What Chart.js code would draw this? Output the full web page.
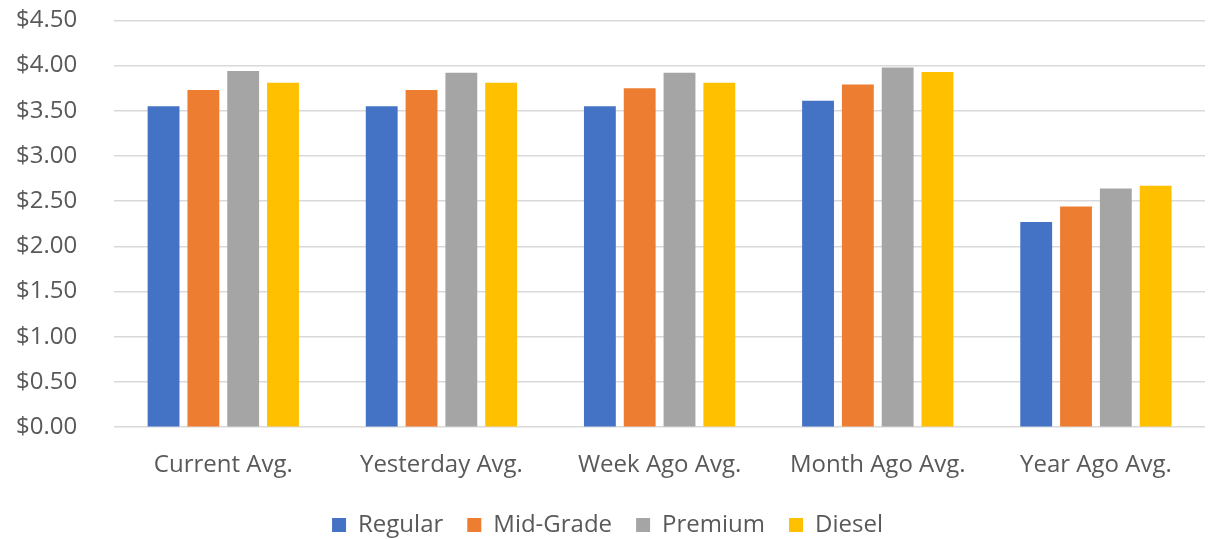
<!DOCTYPE html>
<html>
<head>
<meta charset="utf-8">
<script src="https://cdn.jsdelivr.net/npm/chart.js@4"></script>
<style>
  html, body { margin: 0; padding: 0; background: #fff; }
  #wrap { width: 1221px; height: 539px; }
</style>
</head>
<body>
<div id="wrap"><canvas id="chart"></canvas></div>
<script>
const categories = ['Current Avg.', 'Yesterday Avg.', 'Week Ago Avg.', 'Month Ago Avg.', 'Year Ago Avg.'];
const regular = [3.55, 3.55, 3.55, 3.61, 2.27];
const midGrade = [3.73, 3.73, 3.75, 3.79, 2.44];
const premium = [3.94, 3.92, 3.92, 3.98, 2.64];
const diesel = [3.81, 3.81, 3.81, 3.93, 2.67];

const textColor = '#595959';
const fontFamily = "'Open Sans', 'Liberation Sans', sans-serif";

new Chart(document.getElementById('chart'), {
    type: 'bar',
    data: {
        labels: categories,
        datasets: [
            { label: 'Regular', data: regular, backgroundColor: '#4472c4' },
            { label: 'Mid-Grade', data: midGrade, backgroundColor: '#ed7d31' },
            { label: 'Premium', data: premium, backgroundColor: '#a5a5a5' },
            { label: 'Diesel', data: diesel, backgroundColor: '#ffc000' }
        ]
    },
    options: {
        responsive: true,
        maintainAspectRatio: false,
        animation: false,
        datasets: {
            bar: { categoryPercentage: 0.73, barPercentage: 0.8 }
        },
        layout: { autoPadding: false, padding: { top: 12, right: 16, left: 10, bottom: -8 } },
        scales: {
            x: {
                grid: { display: false },
                border: { display: false },
                ticks: { color: textColor, font: { family: fontFamily, size: 24 }, padding: 16 },
                afterFit: scale => { scale.height -= 7; }
            },
            y: {
                min: 0,
                max: 4.5,
                border: { display: false },
                grid: { color: '#d9d9d9', lineWidth: 1.5, drawTicks: true, tickLength: 31, tickColor: 'rgba(0,0,0,0)' },
                ticks: {
                    stepSize: 0.5,
                    color: textColor,
                    padding: 6,
                    font: { family: fontFamily, size: 24 },
                    callback: v => '$' + v.toFixed(2)
                }
            }
        },
        plugins: {
            tooltip: { enabled: false },
            legend: {
                position: 'bottom',
                labels: {
                    color: textColor,
                    font: { family: fontFamily, size: 24 },
                    boxWidth: 14,
                    boxHeight: 14,
                    padding: 24
                }
            }
        }
    }
});
</script>
</body>
</html>
